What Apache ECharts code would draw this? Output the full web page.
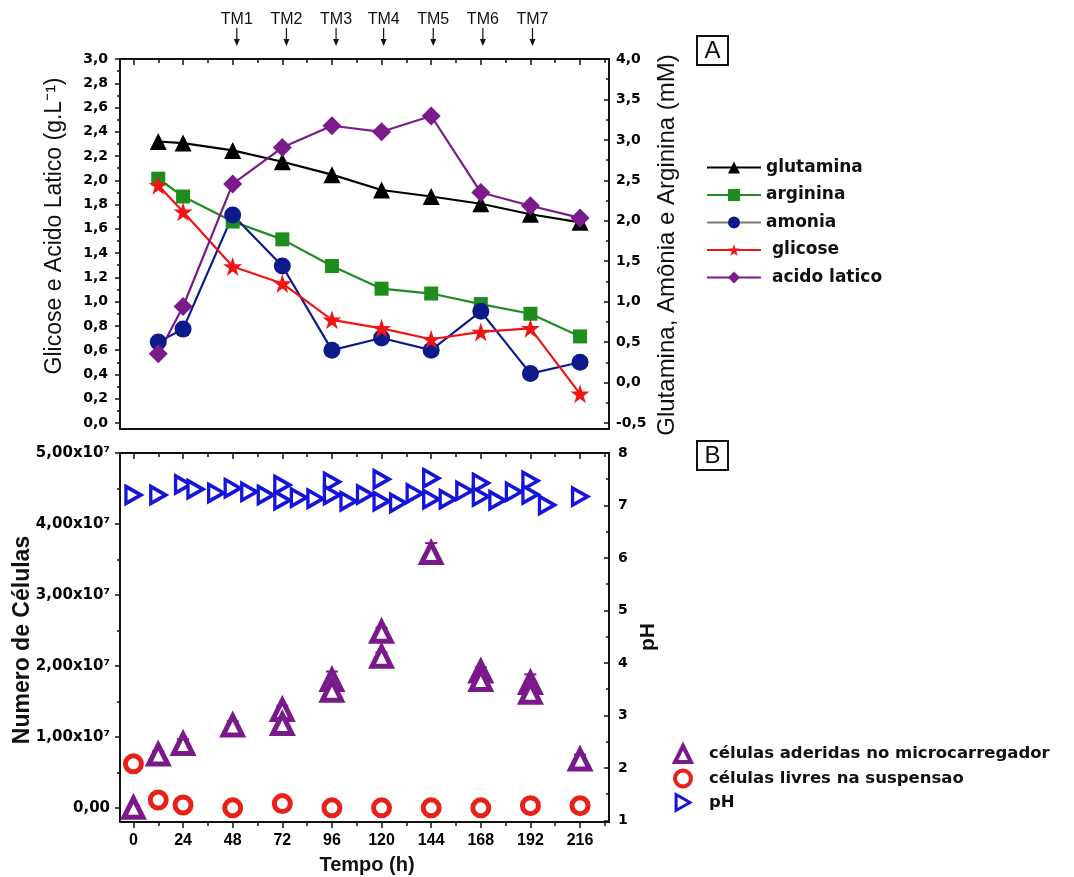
<!DOCTYPE html>
<html>
<head>
<meta charset="utf-8">
<script src="https://cdn.jsdelivr.net/npm/echarts@6/dist/echarts.min.js"></script>
<style>
html, body { margin: 0; padding: 0; background: #fff; }
#chart { width: 1074px; height: 877px; }
</style>
</head>
<body>
<div id="chart"></div>
<script>
// ---- painel A (metabolitos) ----
var tempoA = [12, 24, 48, 72, 96, 120, 144, 168, 192, 216];
var glutamina = [2.98, 2.96, 2.87, 2.73, 2.57, 2.38, 2.30, 2.21, 2.08, 1.98];
var arginina = [2.52, 2.30, 1.99, 1.77, 1.44, 1.16, 1.10, 0.97, 0.85, 0.57];
var amonia = [0.50, 0.66, 2.07, 1.44, 0.40, 0.55, 0.40, 0.88, 0.11, 0.25];
var glicose = [1.96, 1.74, 1.29, 1.15, 0.85, 0.78, 0.69, 0.75, 0.78, 0.24];
var acidoLatico = [0.57, 0.96, 1.97, 2.27, 2.45, 2.40, 2.53, 1.90, 1.79, 1.69];
// trocas de meio
var tmTempo = [50, 74, 98, 121, 145, 169, 193];
var tmNomes = ['TM1', 'TM2', 'TM3', 'TM4', 'TM5', 'TM6', 'TM7'];

// ---- painel B (celulas e pH) ----
var tempoAderidas = [0, 12, 24, 48, 72, 72, 96, 96, 120, 120, 144, 168, 168, 192, 192, 216];
var aderidas = [0, 0.75e7, 0.9e7, 1.16e7, 1.38e7, 1.18e7, 1.8e7, 1.65e7, 2.48e7, 2.13e7, 3.59e7, 1.92e7, 1.8e7, 1.76e7, 1.62e7, 0.68e7];
var erroAderidas = [0, 0.05e7, 0.07e7, 0.06e7, 0.06e7, 0.08e7, 0.12e7, 0.08e7, 0.06e7, 0.06e7, 0.14e7, 0.06e7, 0.08e7, 0.12e7, 0.12e7, 0.07e7];
var tempoLivres = [0, 12, 24, 48, 72, 96, 120, 144, 168, 192, 216];
var livres = [0.62e7, 0.11e7, 0.04e7, 0, 0.06e7, 0, 0, 0, 0, 0.03e7, 0.03e7];
var tempoPH = [0, 12, 24, 30, 40, 48, 56, 64, 72, 72, 80, 88, 96, 96, 104, 112, 120, 120, 128, 136, 144, 144, 152, 160, 168, 168, 176, 184, 192, 192, 200, 216];
var pH = [7.20, 7.20, 7.40, 7.31, 7.24, 7.33, 7.26, 7.20, 7.39, 7.10, 7.15, 7.13, 7.45, 7.20, 7.08, 7.21, 7.50, 7.08, 7.05, 7.23, 7.52, 7.12, 7.12, 7.28, 7.43, 7.17, 7.10, 7.26, 7.47, 7.21, 7.01, 7.17];

// ---- marcas dos eixos ----
var ticksTempo = [0, 24, 48, 72, 96, 120, 144, 168, 192, 216];
var ticksTempoMenor = [0, 12, 24, 36, 48, 60, 72, 84, 96, 108, 120, 132, 144, 156, 168, 180, 192, 204, 216, 228];
var ticksGlicose = [0, 0.2, 0.4, 0.6, 0.8, 1.0, 1.2, 1.4, 1.6, 1.8, 2.0, 2.2, 2.4, 2.6, 2.8, 3.0];
var ticksGlicoseMenor = [0.1, 0.3, 0.5, 0.7, 0.9, 1.1, 1.3, 1.5, 1.7, 1.9, 2.1, 2.3, 2.5, 2.7, 2.9];
var ticksGlutamina = [-0.5, 0, 0.5, 1.0, 1.5, 2.0, 2.5, 3.0, 3.5, 4.0];
var ticksGlutaminaMenor = [-0.25, 0.25, 0.75, 1.25, 1.75, 2.25, 2.75, 3.25, 3.75];
var ticksCelulas = [0, 1e7, 2e7, 3e7, 4e7, 5e7];
var ticksCelulasMenor = [0.5e7, 1.5e7, 2.5e7, 3.5e7, 4.5e7];
var ticksPH = [1, 2, 3, 4, 5, 6, 7, 8];
var ticksPHMenor = [1.5, 2.5, 3.5, 4.5, 5.5, 6.5, 7.5];

var TMIN = -6.5, TMAX = 230;

var ROXO = '#7a1a8a', VERMELHO = '#e8201a', AZUL = '#1414dc';

function juntar(xs, ys) {
  return xs.map(function (x, i) { return [x, ys[i]]; });
}

function virgula(v, d) {
  return v.toFixed(d).replace('.', ',');
}

// eixo de valor com marcas fixas
function eixo(grid, pos, min, max, ticks, len, inside, line, label) {
  return {
    type: 'value', gridIndex: grid, position: pos, min: min, max: max,
    splitLine: { show: false },
    axisLine: { show: line, onZero: false, lineStyle: { color: '#111', width: 2 } },
    axisTick: ticks ? { show: true, customValues: ticks, length: len, inside: inside, lineStyle: { color: '#111', width: 1.5 } } : { show: false },
    axisLabel: label ? Object.assign({ show: true, customValues: ticks, color: '#000' }, label) : { show: false }
  };
}

var rotuloBold = { fontFamily: 'DejaVu Sans', fontWeight: 'bold' };

var xAxes = [
  eixo(0, 'bottom', TMIN, TMAX, null, 0, false, true, null),
  eixo(0, 'top', TMIN, TMAX, ticksTempo, 6, true, true, null),
  eixo(0, 'top', TMIN, TMAX, ticksTempoMenor, 4, true, false, null),
  eixo(1, 'bottom', TMIN, TMAX, ticksTempo, 6, false, true, {
    fontFamily: 'Liberation Sans', fontWeight: 'bold', fontSize: 16, margin: 11
  }),
  eixo(1, 'bottom', TMIN, TMAX, ticksTempoMenor, 4, false, false, null),
  eixo(1, 'top', TMIN, TMAX, ticksTempo, 6, true, true, null),
  eixo(1, 'top', TMIN, TMAX, ticksTempoMenor, 4, true, false, null),
  eixo(2, 'bottom', TMIN, TMAX, null, 0, false, false, null)
];

var yAxes = [
  eixo(0, 'left', -0.05, 3.0, ticksGlicose, 5, false, true, Object.assign({
    fontSize: 14, margin: 12, formatter: function (v) { return virgula(v, 1); }
  }, rotuloBold)),
  eixo(0, 'left', -0.05, 3.0, ticksGlicoseMenor, 3, false, false, null),
  eixo(0, 'right', -0.575, 4.0, ticksGlutamina, 5, true, true, Object.assign({
    fontSize: 14, margin: 7, formatter: function (v) { return virgula(v, 1); }
  }, rotuloBold)),
  eixo(0, 'right', -0.575, 4.0, ticksGlutaminaMenor, 3, true, false, null),
  eixo(1, 'left', -0.2e7, 5e7, ticksCelulas, 5, false, true, Object.assign({
    fontSize: 15, margin: 10,
    formatter: function (v) { return v === 0 ? '0,00' : virgula(v / 1e7, 2) + 'x10\u2077'; }
  }, rotuloBold)),
  eixo(1, 'left', -0.2e7, 5e7, ticksCelulasMenor, 3, false, false, null),
  eixo(1, 'right', 0.97, 8, ticksPH, 5, true, true, Object.assign({
    fontSize: 14, margin: 9
  }, rotuloBold)),
  eixo(1, 'right', 0.97, 8, ticksPHMenor, 3, true, false, null),
  eixo(2, 'left', 0, 1, null, 0, false, false, null)
];

var linhaA = function (nome, xs, ys, cor, simbolo, tam, yIdx) {
  return {
    name: nome, type: 'line', xAxisIndex: 0, yAxisIndex: yIdx,
    data: juntar(xs, ys),
    symbol: simbolo, symbolSize: tam,
    lineStyle: { color: cor, width: 2.2 },
    itemStyle: { color: cor },
    emphasis: { disabled: true },
    z: 3
  };
};

var pathTriDireita = 'path://M0,0L13,7.5L0,15Z';
var pathEstrela = 'path://M50,0L61.8,36.2L100,36.2L69.1,58.6L80.9,95.1L50,72.7L19.1,95.1L30.9,58.6L0,36.2L38.2,36.2Z';

var estiloAderidas = { color: '#fff', borderColor: ROXO, borderWidth: 5, opacity: 1 };
var estiloLivres = { color: '#fff', borderColor: VERMELHO, borderWidth: 5, opacity: 1 };
var estiloPH = { color: '#fff', borderColor: AZUL, borderWidth: 3.5, opacity: 1 };

var chart = echarts.init(document.getElementById('chart'));

chart.setOption({
  animation: false,
  backgroundColor: '#fff',
  textStyle: { fontFamily: 'Liberation Sans' },
  grid: [
    { left: 120, right: 465, top: 59, height: 370, outerBoundsMode: 'none' },
    { left: 120, right: 465, top: 453, height: 369, outerBoundsMode: 'none' },
    { left: 120, right: 465, top: 0, height: 58, outerBoundsMode: 'none' }
  ],
  xAxis: xAxes,
  yAxis: yAxes,
  legend: [
    {
      orient: 'vertical', left: 701, top: 154,
      itemWidth: 54, itemHeight: 15, itemGap: 10.5,
      textStyle: { fontFamily: 'DejaVu Sans', fontWeight: 'bold', fontSize: 17, color: '#111' },
      formatter: function (n) { return (n === 'glicose' || n === 'acido latico') ? ' ' + n : n; },
      data: [
        { name: 'glutamina' },
        { name: 'arginina' },
        { name: 'amonia', lineStyle: { color: '#777' } },
        { name: 'glicose' },
        { name: 'acido latico' }
      ]
    },
    {
      orient: 'vertical', left: 668, top: 739,
      itemWidth: 16, itemHeight: 16, itemGap: 4.5,
      textStyle: { fontFamily: 'DejaVu Sans', fontWeight: 'bold', fontSize: 16.5, color: '#111', padding: [0, 0, 0, 13] },
      data: [
        { name: 'células aderidas no microcarregador', icon: 'triangle', itemStyle: { color: '#fff', borderColor: ROXO, borderWidth: 4 } },
        { name: 'células livres na suspensao', icon: 'circle', itemStyle: { color: '#fff', borderColor: VERMELHO, borderWidth: 4 } },
        { name: 'pH', icon: pathTriDireita, itemStyle: { color: '#fff', borderColor: AZUL, borderWidth: 3 } }
      ]
    }
  ],
  series: [
    linhaA('glutamina', tempoA, glutamina, '#000', 'triangle', 17, 2),
    linhaA('arginina', tempoA, arginina, '#1e8c1e', 'rect', 14, 2),
    linhaA('amonia', tempoA, amonia, '#0c1a8c', 'circle', 17, 2),
    linhaA('glicose', tempoA, glicose, '#f01414', pathEstrela, 19, 0),
    linhaA('acido latico', tempoA, acidoLatico, '#7b1a8b', 'diamond', 19, 0),
    {
      name: 'pH', type: 'scatter', xAxisIndex: 3, yAxisIndex: 6,
      data: juntar(tempoPH, pH),
      symbol: pathTriDireita, symbolSize: [15, 17],
      itemStyle: estiloPH,
      emphasis: { disabled: true }
    },
    {
      type: 'custom', xAxisIndex: 3, yAxisIndex: 4,
      data: tempoAderidas.map(function (t, i) { return [t, aderidas[i], erroAderidas[i]]; }),
      renderItem: function (params, api) {
        var t = api.value(0), v = api.value(1), e = api.value(2);
        var a = api.coord([t, v + e]);
        var b = api.coord([t, v - e]);
        var st = { stroke: ROXO, lineWidth: 2 };
        return {
          type: 'group',
          children: [
            { type: 'line', shape: { x1: a[0], y1: a[1], x2: b[0], y2: b[1] }, style: st },
            { type: 'line', shape: { x1: a[0] - 6, y1: a[1], x2: a[0] + 6, y2: a[1] }, style: st },
            { type: 'line', shape: { x1: b[0] - 6, y1: b[1], x2: b[0] + 6, y2: b[1] }, style: st }
          ]
        };
      },
      silent: true
    },
    {
      name: 'células aderidas no microcarregador', type: 'scatter', xAxisIndex: 3, yAxisIndex: 4,
      data: juntar(tempoAderidas, aderidas),
      symbol: 'triangle', symbolSize: 19,
      itemStyle: estiloAderidas,
      emphasis: { disabled: true }
    },
    {
      name: 'células livres na suspensao', type: 'scatter', xAxisIndex: 3, yAxisIndex: 4,
      data: juntar(tempoLivres, livres),
      symbol: 'circle', symbolSize: 16,
      itemStyle: estiloLivres,
      emphasis: { disabled: true }
    },
    {
      type: 'custom', xAxisIndex: 7, yAxisIndex: 8,
      data: tmTempo.map(function (t) { return [t, 0]; }),
      renderItem: function (params, api) {
        var p = api.coord([api.value(0), 0]);
        var x = p[0], y0 = params.coordSys.y;
        return {
          type: 'group',
          children: [
            { type: 'text', style: { x: x, y: y0 + 20, text: tmNomes[params.dataIndex], textAlign: 'center', textVerticalAlign: 'middle', font: '16px "Liberation Sans"', fill: '#111' } },
            { type: 'line', shape: { x1: x, y1: y0 + 28, x2: x, y2: y0 + 40 }, style: { stroke: '#111', lineWidth: 1.2 } },
            { type: 'polygon', shape: { points: [[x - 3, y0 + 39], [x + 3, y0 + 39], [x, y0 + 46]] }, style: { fill: '#111' } }
          ]
        };
      },
      silent: true
    }
  ],
  graphic: [
    { type: 'text', x: 55, y: 226, rotation: Math.PI / 2, style: { text: 'Glicose e Acido Latico (g.L\u207B\u00B9)', font: '23px "Liberation Sans"', fill: '#111', textAlign: 'center', textVerticalAlign: 'middle' } },
    { type: 'text', x: 667, y: 245, rotation: Math.PI / 2, style: { text: 'Glutamina, Amônia e Arginina (mM)', font: '24px "Liberation Sans"', fill: '#111', textAlign: 'center', textVerticalAlign: 'middle' } },
    { type: 'text', x: 23, y: 640, rotation: Math.PI / 2, style: { text: 'Numero de Células', font: 'bold 23px "Liberation Sans"', fill: '#111', textAlign: 'center', textVerticalAlign: 'middle' } },
    { type: 'text', x: 648, y: 637, rotation: Math.PI / 2, style: { text: 'pH', font: 'bold 21px "Liberation Sans"', fill: '#111', textAlign: 'center', textVerticalAlign: 'middle' } },
    { type: 'text', x: 367, y: 865, style: { text: 'Tempo (h)', font: 'bold 20px "Liberation Sans"', fill: '#111', textAlign: 'center', textVerticalAlign: 'middle' } },
    { type: 'rect', shape: { x: 697, y: 36, width: 31, height: 29 }, style: { fill: 'none', stroke: '#111', lineWidth: 2 } },
    { type: 'text', x: 712.5, y: 51, style: { text: 'A', font: '24px "Liberation Sans"', fill: '#111', textAlign: 'center', textVerticalAlign: 'middle' } },
    { type: 'rect', shape: { x: 697, y: 441, width: 31, height: 29 }, style: { fill: 'none', stroke: '#111', lineWidth: 2 } },
    { type: 'text', x: 712.5, y: 456, style: { text: 'B', font: '24px "Liberation Sans"', fill: '#111', textAlign: 'center', textVerticalAlign: 'middle' } }
  ]
});
</script>
</body>
</html>
